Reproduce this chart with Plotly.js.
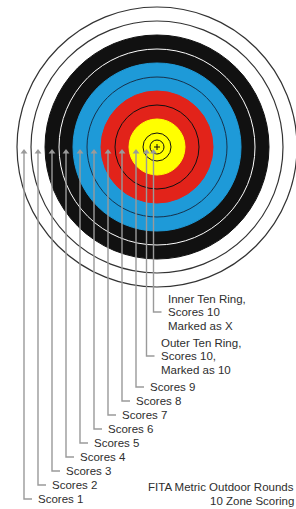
<!DOCTYPE html>
<html><head><meta charset="utf-8">
<script src="https://cdn.plot.ly/plotly-3.0.1.min.js"></script>
<style>html,body{margin:0;padding:0;background:#fff;overflow:hidden}</style>
</head><body><div id="chart" style="width:296px;height:509px"></div>
<script>
// ---- data ----
const scoreLabels = ['Scores 1','Scores 2','Scores 3','Scores 4','Scores 5','Scores 6','Scores 7','Scores 8','Scores 9'];
const outerTenLabel = ['Outer Ten Ring,','Scores 10,','Marked as 10'];
const innerTenLabel = ['Inner Ten Ring,','Scores 10','Marked as X'];
const ringRadii = [140,126,112,98,84,70,56,42,28,14,7];
const ringFills = ['#ffffff','#ffffff','#111111','#111111','#1e9ad8','#1e9ad8','#e2231a','#e2231a','#ffff00','#ffff00','#ffff00'];
const ringEdges = ['#333333','#333333','#111111','#ffffff','#1e9ad8','#17324d','#e2231a','#111111','#ffff00','#111111','#111111'];
const titleLines = ['FITA Metric Outdoor Rounds','10 Zone Scoring'];

// ---- layout constants ----
const W = 296, H = 509;
const cx = 157, cy = 147;
const tipY = 149.5;
const font = {family:'"Liberation Sans", Arial, sans-serif', size:11.5, color:'#2e2e2e'};
const lineCol = '#9a9a9a';

const shapes = [];
ringRadii.forEach((r,i)=>{
  shapes.push({type:'circle', xref:'x', yref:'y', layer:'below',
    x0:cx-r, x1:cx+r, y0:cy-r, y1:cy+r,
    fillcolor:ringFills[i], line:{color:ringEdges[i], width:(i<2?1.2:1)}});
});
// center cross
shapes.push({type:'line', xref:'x', yref:'y', layer:'below', x0:cx-3, x1:cx+3, y0:cy, y1:cy, line:{color:'#111', width:1}});
shapes.push({type:'line', xref:'x', yref:'y', layer:'below', x0:cx, x1:cx, y0:cy-3, y1:cy+3, line:{color:'#111', width:1}});

const traces = [];
const annotations = [];
const nZones = ringRadii.length;
for (let i=0;i<nZones;i++){
  const rOut = ringRadii[i];
  const rIn = i+1<nZones ? ringRadii[i+1] : 0;
  const x = cx - (rOut+rIn)/2;
  let ly;
  if (i<9) ly = 499 - 14*i;
  else if (i===9) ly = 356;
  else ly = 312;
  traces.push({type:'scatter', mode:'lines', x:[x,x,x+8], y:[tipY+3,ly,ly],
    line:{color:lineCol, width:1.4}, hoverinfo:'skip', showlegend:false});
  traces.push({type:'scatter', mode:'markers', x:[x], y:[tipY+2.5],
    marker:{symbol:'triangle-up', size:6, color:lineCol}, hoverinfo:'skip', showlegend:false});
  const tx = x + 12;
  if (i<9){
    annotations.push({x:tx, y:ly, xref:'x', yref:'y', text:scoreLabels[i], showarrow:false, xanchor:'left', yanchor:'middle', font:font});
  } else {
    const lines = i===9 ? outerTenLabel : innerTenLabel;
    lines.forEach((t,k)=>{
      annotations.push({x:tx, y:ly+(k-1)*13.5, xref:'x', yref:'y', text:t, showarrow:false, xanchor:'left', yanchor:'middle', font:font});
    });
  }
}
titleLines.forEach((t,k)=>{
  annotations.push({x:1, y:487+k*13.5, xref:'paper', yref:'y', xshift:0, text:t, showarrow:false, xanchor:'right', yanchor:'middle', font:font});
});

Plotly.newPlot('chart', traces, {
  width:W, height:H, margin:{l:0,r:0,t:0,b:0},
  paper_bgcolor:'#fff', plot_bgcolor:'#fff',
  xaxis:{range:[0,W], visible:false, fixedrange:true},
  yaxis:{range:[H,0], visible:false, fixedrange:true},
  shapes:shapes, annotations:annotations, showlegend:false
}, {staticPlot:true, displayModeBar:false});
</script></body></html>
